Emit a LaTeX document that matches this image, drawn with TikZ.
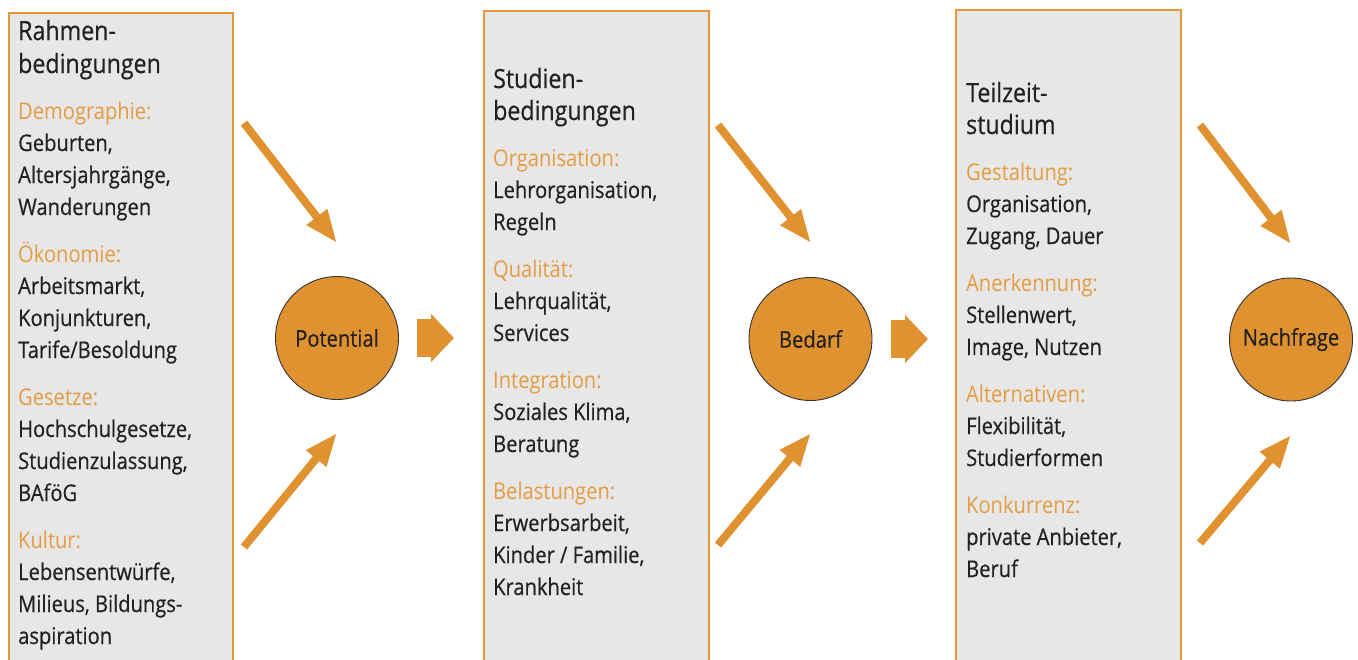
\documentclass[tikz,border=0pt]{standalone}
\usepackage{fontspec}
\setmainfont{Open Sans}[FakeStretch=0.875, FakeBold=0.5]
\newfontfamily\lightfont{Open Sans}[FakeStretch=0.875]
\usetikzlibrary{arrows.meta}
\definecolor{boxorange}{HTML}{E6963A}
\definecolor{circorange}{HTML}{E09231}
\definecolor{labelorange}{HTML}{E59B3F}
\definecolor{panelgray}{HTML}{E7E7E7}
\definecolor{textdark}{HTML}{222222}
\newcommand{\cat}[1]{{\lightfont\textcolor{labelorange}{#1}}}
\newcommand{\ttl}[1]{{\fontsize{26.5}{33}\selectfont #1}}
\tikzset{
  panel/.style={draw=boxorange, line width=2.4pt, fill=panelgray, rectangle, inner sep=0pt, anchor=north west, minimum width=225pt, minimum height=680pt},
  paneltext/.style={anchor=base west, inner sep=0pt, text=textdark, font=\fontsize{23}{32}\selectfont},
  hub/.style={circle, draw=black!80, line width=0.9pt, fill=circorange, minimum size=123pt, inner sep=0pt, text=textdark, font=\fontsize{23}{26}\selectfont},
  slant/.style={draw=circorange, line width=8pt, -{Triangle[length=33pt,width=24pt]}},
  fat/.style={draw=circorange, line width=38pt, -{Triangle[length=23pt,width=47pt]}},
}
\begin{document}
\begin{tikzpicture}[x=1pt,y=-1pt]
\useasboundingbox (0,0) rectangle (1358,659);
\clip (0,0) rectangle (1358,659);
\fill[white] (0,0) rectangle (1358,659);
% panels
\node[panel, minimum width=224pt] (b1) at (8,12) {};
\node[panel, minimum width=225pt] (b2) at (483,10) {};
\node[panel, minimum width=225pt] (b3) at (955,9) {};
% panel texts
\node[paneltext] (t1) at (18,40) {\begin{tabular}[t]{@{}l@{}}
\ttl{Rahmen-}\\[1pt]
\ttl{bedingungen}\\[14pt]
\cat{Demographie:}\\
Geburten,\\
Altersjahrgänge,\\
Wanderungen\\[15pt]
\cat{Ökonomie:}\\
Arbeitsmarkt,\\
Konjunkturen,\\
Tarife/Besoldung\\[15pt]
\cat{Gesetze:}\\
Hochschulgesetze,\\
Studienzulassung,\\
BAföG\\[15pt]
\cat{Kultur:}\\
Lebensentwürfe,\\
Milieus, Bildungs-\\
aspiration
\end{tabular}};
\node[paneltext] (t2) at (493,88) {\begin{tabular}[t]{@{}l@{}}
\ttl{Studien-}\\
\ttl{bedingungen}\\[14pt]
\cat{Organisation:}\\
Lehrorganisation,\\
Regeln\\[15pt]
\cat{Qualität:}\\
Lehrqualität,\\
Services\\[15pt]
\cat{Integration:}\\
Soziales Klima,\\
Beratung\\[15pt]
\cat{Belastungen:}\\
Erwerbsarbeit,\\
Kinder / Familie,\\
Krankheit
\end{tabular}};
\node[paneltext] (t3) at (966,102) {\begin{tabular}[t]{@{}l@{}}
\ttl{Teilzeit-}\\
\ttl{studium}\\[14pt]
\cat{Gestaltung:}\\
Organisation,\\
Zugang, Dauer\\[15pt]
\cat{Anerkennung:}\\
Stellenwert,\\
Image, Nutzen\\[15pt]
\cat{Alternativen:}\\
Flexibilität,\\
Studierformen\\[15pt]
\cat{Konkurrenz:}\\
private Anbieter,\\
Beruf
\end{tabular}};
% hubs
\node[hub] (pot) at (337,338) {Potential};
\node[hub] (bed) at (810.5,339) {Bedarf};
\node[hub] (nach) at (1291,339.5) {Nachfrage};
% slanted arrow end points
\coordinate (p1s) at (244,123); \coordinate (p1e) at (337,243);
\coordinate (p2s) at (244,547); \coordinate (p2e) at (337,433);
\coordinate (d1s) at (718,125); \coordinate (d1e) at (811,243);
\coordinate (d2s) at (718,545); \coordinate (d2e) at (811,433);
\coordinate (n1s) at (1200,125); \coordinate (n1e) at (1291,244);
\coordinate (n2s) at (1200,543); \coordinate (n2e) at (1291,435);
\draw[slant] (p1s) -- (p1e);
\draw[slant] (p2s) -- (p2e);
\draw[slant] (d1s) -- (d1e);
\draw[slant] (d2s) -- (d2e);
\draw[slant] (n1s) -- (n1e);
\draw[slant] (n2s) -- (n2e);
% fat arrows
\draw[fat, shorten <=18pt, shorten >=29pt] (pot.east) -- (pot.east -| b2.west);
\draw[fat, shorten <=18.5pt, shorten >=27pt] (bed.east) -- (bed.east -| b3.west);
\end{tikzpicture}
\end{document}
